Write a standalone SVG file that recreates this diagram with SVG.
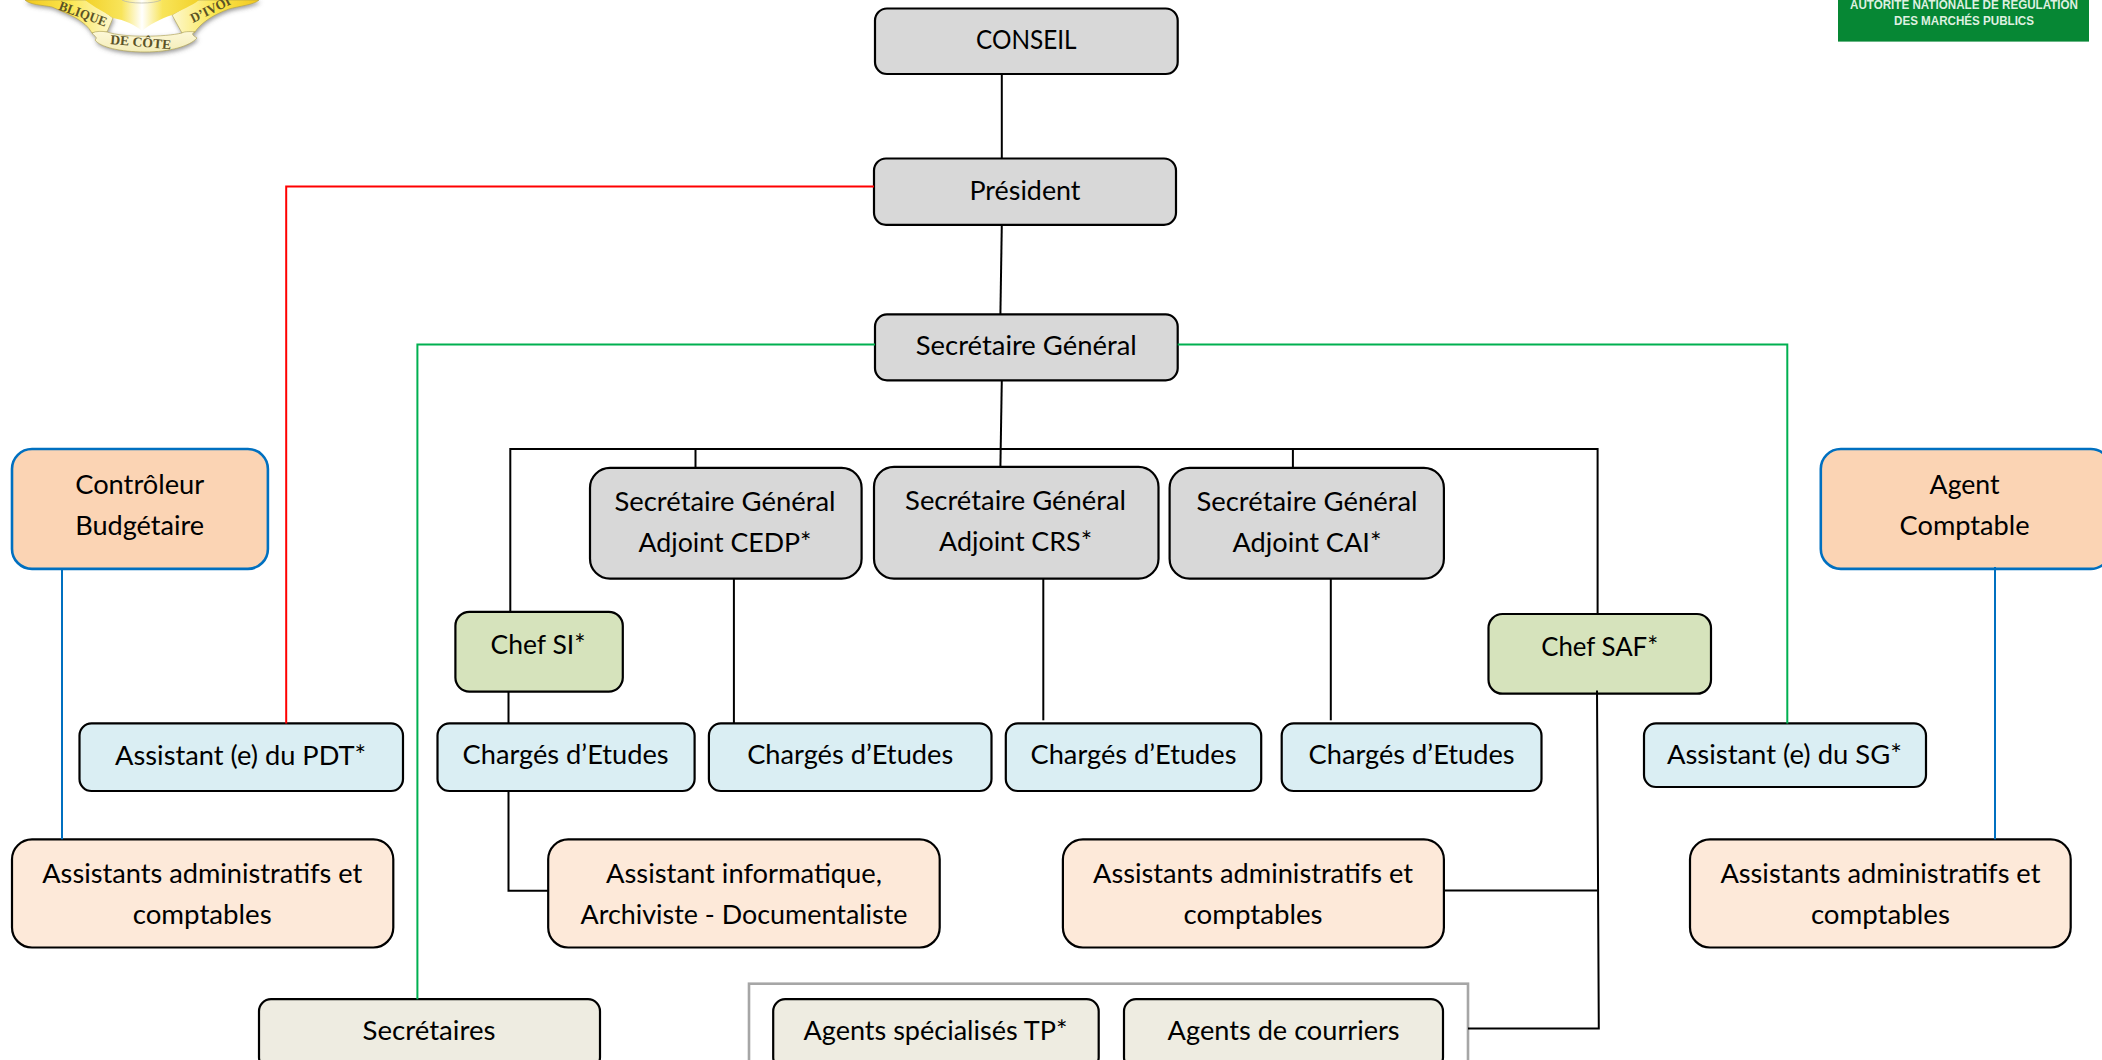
<svg xmlns="http://www.w3.org/2000/svg" width="2102" height="1060" viewBox="0 0 2102 1060">
<style>
text{font-family:"Lato","Open Sans",sans-serif;font-size:26.5px;fill:#000;text-anchor:middle}
rect{stroke:#000;stroke-width:2.2}
.gray{fill:#d8d8d8}.blue{fill:#daeef3}.peach{fill:#fbd4b4;stroke:#0070c0;stroke-width:2.6}.pale{fill:#fde9d9}.green{fill:#d6e3bc}.beige{fill:#eeece1}
.k,.r,.g,.b{fill:none}
.k{stroke:#000;stroke-width:2}.r{stroke:#f00;stroke-width:2}.g{stroke:#00b050;stroke-width:2}.b{stroke:#0070c0;stroke-width:2}
.logo{font-family:"Liberation Sans",sans-serif;font-size:13px;font-weight:700;fill:#dff0e0}
.seal{font-family:"Liberation Serif",serif;font-size:13.5px;font-weight:700;fill:#5a5226;text-anchor:start}
</style>
<defs>
<linearGradient id="gold" x1="0" x2="1" y1="0" y2="0"><stop offset="0" stop-color="#f2c81e"/><stop offset=".5" stop-color="#fbe64e"/><stop offset="1" stop-color="#fdf8cf"/></linearGradient>
<linearGradient id="goldR" x1="1" x2="0" y1="0" y2="0"><stop offset="0" stop-color="#f2c81e"/><stop offset=".5" stop-color="#fbe64e"/><stop offset="1" stop-color="#fdf8cf"/></linearGradient>
<linearGradient id="shield" x1="0" x2="1" y1="0" y2="0"><stop offset="0" stop-color="#f2d22a"/><stop offset=".32" stop-color="#f8e45a"/><stop offset=".5" stop-color="#ffffff"/><stop offset=".68" stop-color="#f8e45a"/><stop offset="1" stop-color="#f2d22a"/></linearGradient>
<linearGradient id="rib" x1="0" x2="0" y1="0" y2="1"><stop offset="0" stop-color="#fdf8d8"/><stop offset="1" stop-color="#f3edb8"/></linearGradient>
<filter id="sh" x="-10%" y="-20%" width="120%" height="150%"><feDropShadow dx="1" dy="2" stdDeviation="2" flood-color="#555" flood-opacity=".6"/></filter>
</defs>
<rect x="0" y="0" width="2102" height="1060" style="fill:#fff;stroke:none"/>

<g id="emblem">
<g filter="url(#sh)" stroke="#a89a4a" stroke-width=".6">
<path fill="url(#gold)" d="M25 0C30 5 42 5 52 7C68 14 85 20 92 33L107 32L113 18C100 8 90 0 85 0Z"/>
<path fill="url(#goldR)" d="M259 0C254 5 239 6 229 9C212 15 200 24 195 32L182 33L172 15C184 8 194 0 199 0Z"/>
<path fill="url(#rib)" d="M92 33C95 37 98 37 95 40C100 47 120 52 145 52C170 52 190 46 197 38C194 36 190 34 195 32C188 31 183 32 182 33C165 37 125 38 107 32C102 31 96 31 92 33Z"/>
</g>
<path fill="url(#shield)" d="M85 0C95 8 105 12 113 18C125 20 135 25 142 31C149 25 160 19 172 15C180 10 192 6 199 0Z"/>
<path fill="none" stroke="#bba" stroke-width=".8" d="M122 0C128 4 155 4 161 0"/>
<text class="seal" transform="translate(58 9.5) rotate(20)" textLength="50" lengthAdjust="spacingAndGlyphs">BLIQUE</text>
<text class="seal" transform="translate(193 23) rotate(-26)" textLength="43" lengthAdjust="spacingAndGlyphs">D’IVOI</text>
<text class="seal" transform="translate(110 44) rotate(5)" textLength="61" lengthAdjust="spacingAndGlyphs">DE CÔTE</text>
</g>
<g id="logo-armp">
<rect x="1838" y="0" width="251" height="41.6" style="fill:#068734;stroke:none"/>
<text class="logo" x="1964" y="8.5" textLength="228" lengthAdjust="spacingAndGlyphs">AUTORITE NATIONALE DE REGULATION</text>
<text class="logo" x="1964" y="25" textLength="140" lengthAdjust="spacingAndGlyphs">DES MARCHÉS PUBLICS</text>
</g>

<g id="conseil"><rect class="gray" x="875" y="8.5" width="302.7" height="65.5" rx="12"/><text x="1026.3" y="49.4" textLength="100.5" lengthAdjust="spacingAndGlyphs">CONSEIL</text></g>
<g id="president"><rect class="gray" x="874" y="158.5" width="302" height="66.3" rx="12"/><text x="1025" y="200" textLength="111" lengthAdjust="spacingAndGlyphs">Président</text></g>
<g id="sg"><rect class="gray" x="875" y="314.4" width="302.7" height="65.9" rx="12"/><text x="1026.3" y="355" textLength="221" lengthAdjust="spacingAndGlyphs">Secrétaire Général</text></g>
<g id="sga-cedp"><rect class="gray" x="590" y="467.9" width="271.6" height="110.8" rx="20"/><text x="725" y="510.5" textLength="221" lengthAdjust="spacingAndGlyphs">Secrétaire Général</text><text x="725" y="552" textLength="173" lengthAdjust="spacingAndGlyphs">Adjoint CEDP*</text></g>
<g id="sga-crs"><rect class="gray" x="874" y="466.9" width="284.5" height="111.8" rx="20"/><text x="1015.6" y="510" textLength="221" lengthAdjust="spacingAndGlyphs">Secrétaire Général</text><text x="1015.6" y="551" textLength="153" lengthAdjust="spacingAndGlyphs">Adjoint CRS*</text></g>
<g id="sga-cai"><rect class="gray" x="1169.6" y="467.9" width="274.3" height="110.8" rx="20"/><text x="1307" y="510.5" textLength="221" lengthAdjust="spacingAndGlyphs">Secrétaire Général</text><text x="1307" y="552" textLength="149" lengthAdjust="spacingAndGlyphs">Adjoint CAI*</text></g>
<g id="controleur"><rect class="peach" x="12" y="449" width="255.9" height="119.9" rx="20"/><text x="139.7" y="493.6" textLength="129" lengthAdjust="spacingAndGlyphs">Contrôleur</text><text x="139.7" y="535" textLength="129" lengthAdjust="spacingAndGlyphs">Budgétaire</text></g>
<g id="agent-comptable"><rect class="peach" x="1820.8" y="449" width="290" height="119.9" rx="20"/><text x="1964.6" y="493.6" textLength="70" lengthAdjust="spacingAndGlyphs">Agent</text><text x="1964.6" y="535" textLength="130" lengthAdjust="spacingAndGlyphs">Comptable</text></g>
<g id="chef-si"><rect class="green" x="455.4" y="611.8" width="167.4" height="79.8" rx="14"/><text x="538" y="654" textLength="95" lengthAdjust="spacingAndGlyphs">Chef SI*</text></g>
<g id="chef-saf"><rect class="green" x="1488.5" y="614" width="222.5" height="79.7" rx="14"/><text x="1599.7" y="655.7" textLength="117" lengthAdjust="spacingAndGlyphs">Chef SAF*</text></g>
<g id="assistant-pdt"><rect class="blue" x="79.5" y="723.4" width="323.5" height="67.6" rx="12"/><text x="240.6" y="765" textLength="251" lengthAdjust="spacingAndGlyphs">Assistant (e) du PDT*</text></g>
<g id="etudes-1"><rect class="blue" x="437.5" y="723.4" width="257.1" height="67.6" rx="12"/><text x="565.6" y="764" textLength="206" lengthAdjust="spacingAndGlyphs">Chargés d’Etudes</text></g>
<g id="etudes-2"><rect class="blue" x="708.9" y="723.4" width="282.6" height="67.6" rx="12"/><text x="850.2" y="764" textLength="206" lengthAdjust="spacingAndGlyphs">Chargés d’Etudes</text></g>
<g id="etudes-3"><rect class="blue" x="1005.8" y="723.4" width="255.4" height="67.6" rx="12"/><text x="1133.5" y="764" textLength="206" lengthAdjust="spacingAndGlyphs">Chargés d’Etudes</text></g>
<g id="etudes-4"><rect class="blue" x="1281.7" y="723.4" width="259.8" height="67.6" rx="12"/><text x="1411.6" y="764" textLength="206" lengthAdjust="spacingAndGlyphs">Chargés d’Etudes</text></g>
<g id="assistant-sg"><rect class="blue" x="1644" y="723.4" width="282" height="63.6" rx="12"/><text x="1784.4" y="764" textLength="235" lengthAdjust="spacingAndGlyphs">Assistant (e) du SG*</text></g>
<g id="admin-1"><rect class="pale" x="12" y="839.3" width="381.3" height="108.2" rx="20"/><text x="202.2" y="882.6" textLength="320" lengthAdjust="spacingAndGlyphs">Assistants administratifs et</text><text x="202.2" y="924.2" textLength="139" lengthAdjust="spacingAndGlyphs">comptables</text></g>
<g id="info"><rect class="pale" x="548.2" y="839.3" width="391.5" height="108.2" rx="20"/><text x="744" y="882.6" textLength="276" lengthAdjust="spacingAndGlyphs">Assistant informatique,</text><text x="744" y="924.2" textLength="327" lengthAdjust="spacingAndGlyphs">Archiviste - Documentaliste</text></g>
<g id="admin-2"><rect class="pale" x="1062.9" y="839.3" width="381" height="108.2" rx="20"/><text x="1253" y="882.6" textLength="320" lengthAdjust="spacingAndGlyphs">Assistants administratifs et</text><text x="1253" y="924.2" textLength="139" lengthAdjust="spacingAndGlyphs">comptables</text></g>
<g id="admin-3"><rect class="pale" x="1690" y="839.3" width="380.7" height="108.2" rx="20"/><text x="1880.4" y="882.6" textLength="320" lengthAdjust="spacingAndGlyphs">Assistants administratifs et</text><text x="1880.4" y="924.2" textLength="139" lengthAdjust="spacingAndGlyphs">comptables</text></g>
<g id="secretaires"><rect class="beige" x="259" y="999.2" width="341" height="70" rx="12"/><text x="429" y="1040" textLength="133" lengthAdjust="spacingAndGlyphs">Secrétaires</text></g>
<g id="groupe-agents"><rect x="749" y="983.7" width="719" height="90" style="fill:#fff;stroke:#a6a6a6;stroke-width:2.6"/>
<g id="agents-tp"><rect class="beige" x="773.2" y="999.2" width="325.5" height="70" rx="12"/><text x="935.5" y="1039.5" textLength="264" lengthAdjust="spacingAndGlyphs">Agents spécialisés TP*</text></g>
<g id="agents-courriers"><rect class="beige" x="1124" y="999.2" width="319" height="70" rx="12"/><text x="1283.6" y="1039.5" textLength="232" lengthAdjust="spacingAndGlyphs">Agents de courriers</text></g>
</g>

<g id="connectors">
<path class="k" d="M1001.8 74V158.5"/>
<path class="k" d="M1001.8 224.8L1000.4 314.4"/>
<path class="k" d="M1001.8 380.3L1000.4 466.9"/>
<path class="k" d="M510.3 611.8V449H1597.6V614"/>
<path class="k" d="M695.5 449V467.9"/>
<path class="k" d="M1292.9 449V467.9"/>
<path class="k" d="M508.5 691.6V723.4"/>
<path class="k" d="M508.5 791V890.7H548.2"/>
<path class="k" d="M733.9 578.7V723.4"/>
<path class="k" d="M1043.3 578.7V720.3"/>
<path class="k" d="M1330.8 578.7V720.3"/>
<path class="k" d="M1597 690.6L1598.8 1028.6H1468"/>
<path class="k" d="M1443.9 890.4H1597.5"/>
<path class="r" d="M874 186.6H286.2V723.4"/>
<path class="g" d="M875 344.5H417.4V999.2"/>
<path class="g" d="M1177.7 344.5H1787.3V723.4"/>
<path class="b" d="M62 568.9V839.3"/>
<path class="b" d="M1995 567V839.3"/>
</g>
</svg>
